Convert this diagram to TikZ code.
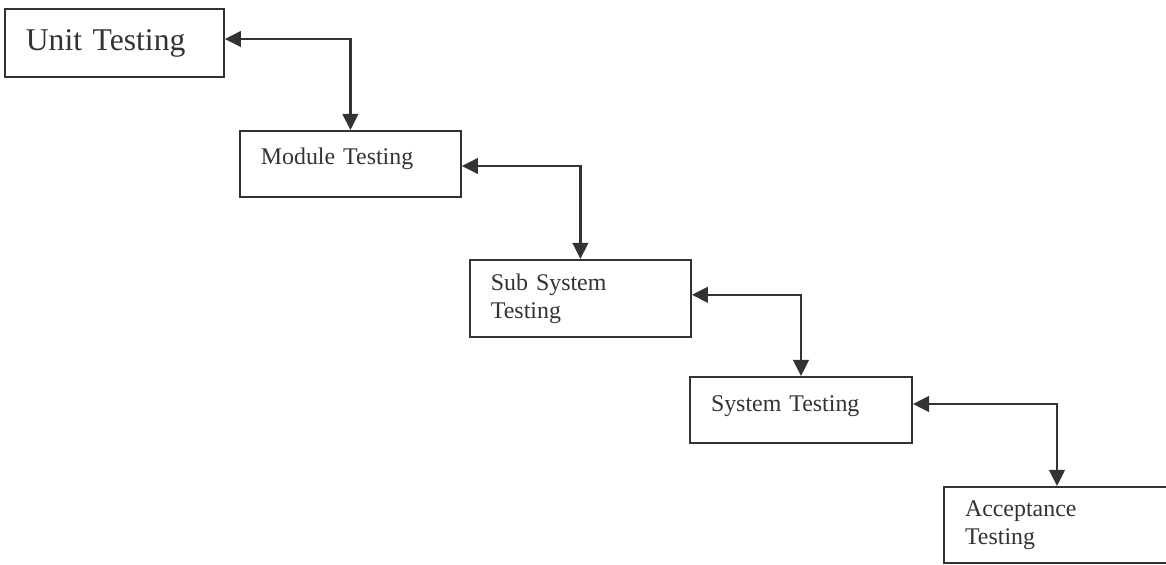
\documentclass[tikz,border=0pt]{standalone}
\usepackage{fontspec}
\setmainfont{Liberation Serif}
\usetikzlibrary{%
        arrows.meta,
    }
\definecolor{ink}{HTML}{333333}
\tikzset{%
    stage/.style={%
        draw=ink,
        text=ink,
        line width=0.5mm,
        align=left,
        inner xsep=5.25mm,
        inner ysep=0mm,
        font=\fontsize{17}{19.9}\selectfont,
    },
    link/.style={%
        {Triangle[length=4mm, width=3.9mm]}-{Triangle[length=4mm, width=3.9mm]},
        draw=ink,
        line width=0.55mm,
    },
}

\begin{document}
\begin{tikzpicture}

    \useasboundingbox[fill=white] (0, 0) rectangle (291.5mm, -141.25mm);

    %%%%%%%%%%
    % Stages %
    %%%%%%%%%%
    \node[stage, text width=44.25mm, minimum height=17mm,
        font=\fontsize{22.5}{26}\selectfont]
        (unit) at (28.6mm, -10.75mm) {Unit Testing};
    \node[stage, text width=44.75mm, minimum height=16.5mm,
        text height=4.2mm, text depth=3.7mm]
        (module) at (87.6mm, -41mm) {Module Testing};
    \node[stage, text width=44.75mm, minimum height=19.25mm]
        (subsystem) at (145.1mm, -74.6mm) {%
            Sub System\\
            Testing
        };
    \node[stage, text width=45mm, minimum height=16.5mm,
        text height=4.2mm, text depth=3.2mm]
        (system) at (200.25mm, -102.5mm) {System Testing};
    \node[stage, text width=46mm, minimum height=19mm]
        (acceptance) at (264.25mm, -131.25mm) {%
            Acceptance\\
            Testing
        };

    %%%%%%%%%%
    % Arrows %
    %%%%%%%%%%
    \foreach \from/\to/\shift in {%
        unit/module/1mm,
        module/subsystem/-0.5mm,
        subsystem/system/0.9mm,
        system/acceptance/1.5mm%
    }{%
        \draw[link] ([yshift=\shift] \from.east) -| (\to.north);
    };

\end{tikzpicture}
\end{document}
